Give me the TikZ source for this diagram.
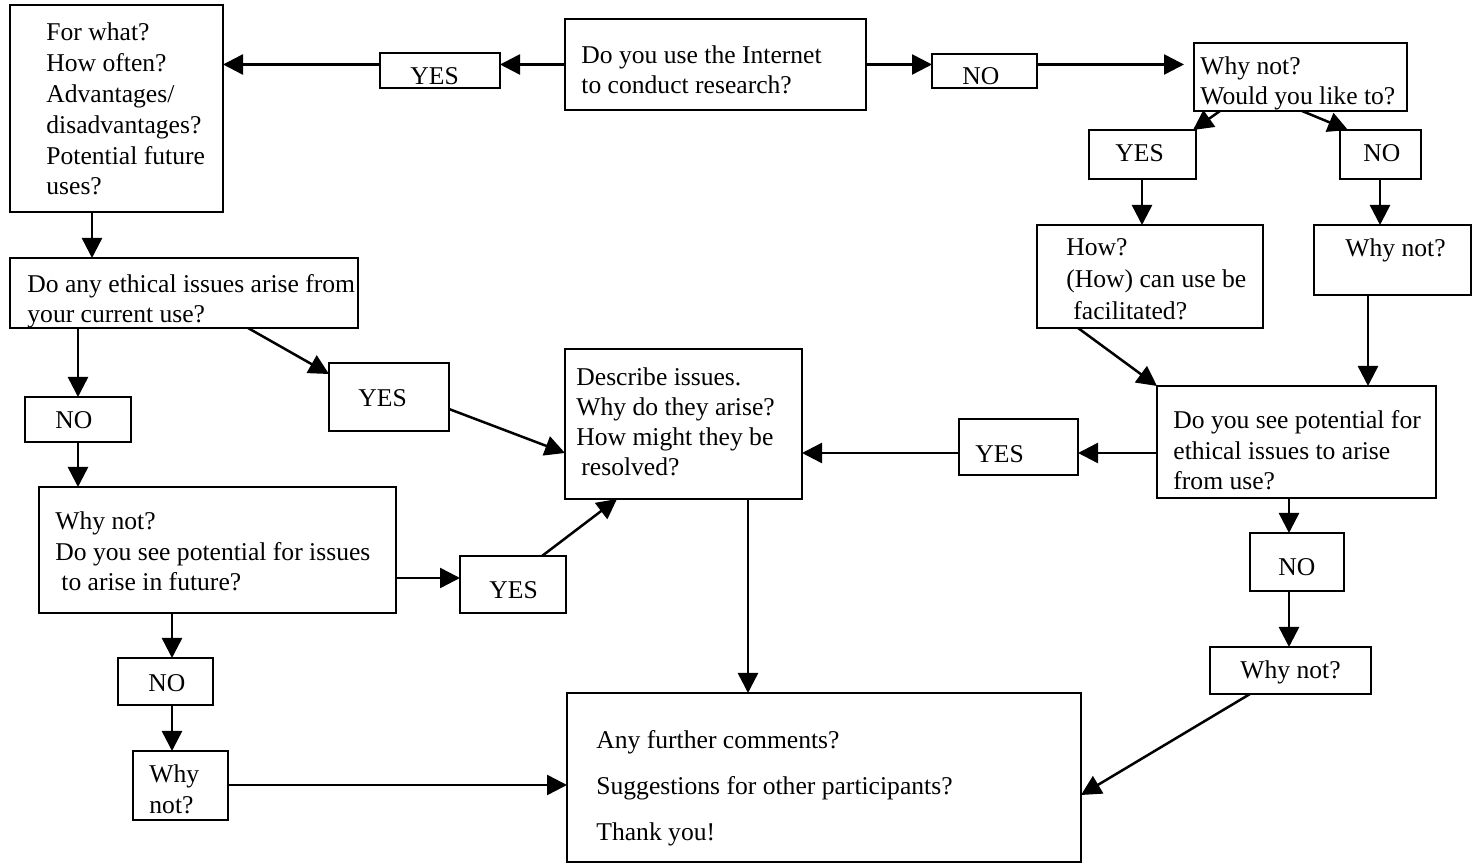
\documentclass[tikz,border=0pt]{standalone}
\usepackage{fontspec}
\setmainfont{Liberation Serif}
\usetikzlibrary{arrows.meta,calc}
\newcommand{\mkbox}[5]{\node[box, minimum width={(#4-#2)*0.5pt}, minimum height={(#5-#3)*0.5pt}] (#1) at ({(#2+#4)/2},{(#3+#5)/2}) {};}
\tikzset{
  box/.style={draw, line width=1.25pt, inner sep=0pt, outer sep=0pt, fill=white},
  txt/.style={anchor=base west, inner sep=0pt, align=left},
  arr/.style={line width=1.25pt, -{Triangle[length=10pt,width=10pt]}},
}
\newcommand{\fs}[1]{\fontsize{12.8pt}{#1pt}\selectfont}
\begin{document}
\begin{tikzpicture}[x=0.5pt,y=-0.5pt]
\useasboundingbox[fill=white] (0,0) rectangle (1473,865);
% boxes
\mkbox{a}{10}{5}{223}{212}
\mkbox{y1}{380}{53}{500}{88}
\mkbox{q}{565}{19}{866}{110}
\mkbox{n1}{932}{54}{1037}{88}
\mkbox{w}{1194}{43}{1407}{111}
\mkbox{y2}{1089}{130}{1196}{179}
\mkbox{n2}{1340}{130}{1421}{179}
\mkbox{h}{1037}{225}{1263}{328}
\mkbox{wn2}{1314}{225}{1471}{295}
\mkbox{p}{1157}{386}{1436}{498}
\mkbox{y3}{959}{419}{1078}{475}
\mkbox{n3}{1250}{533}{1344}{591}
\mkbox{wn3}{1210}{647}{1371}{694}
\mkbox{d}{565}{349}{802}{499}
\mkbox{e}{10}{258}{358}{328}
\mkbox{y4}{329}{363}{449}{431}
\mkbox{n4}{25}{397}{131}{442}
\mkbox{f}{39}{487}{396}{613}
\mkbox{y5}{460}{556}{566}{613}
\mkbox{n5}{118}{658}{213}{705}
\mkbox{wn5}{133}{751}{228}{820}
\mkbox{s}{567}{693}{1081}{862}
% texts (anchor = baseline of last line)
\node[txt, font=\fs{15.4}] (ta) at (46,195) {For what?\\How often?\\Advantages/\\disadvantages?\\Potential future\\uses?};
\node[txt, font=\fs{15}] (ty1) at (410,85) {YES};
\node[txt, font=\fs{15}] (tq) at (581,94) {Do you use the Internet\\to conduct research?};
\node[txt, font=\fs{15}] (tn1) at (962,85) {NO};
\node[txt, font=\fs{15}] (tw) at (1200,105) {Why not?\\Would you like to?};
\node[txt, font=\fs{15}] (ty2) at (1115,162) {YES};
\node[txt, font=\fs{15}] (tn2) at (1363,162) {NO};
\node[txt, font=\fs{16}] (th) at (1066,320) {How?\\(How) can use be\\\hspace*{3.5pt}facilitated?};
\node[txt, font=\fs{15}] (twn2) at (1345,257) {Why not?};
\node[txt, font=\fs{15.25}] (tp) at (1173,490) {Do you see potential for\\ethical issues to arise\\from use?};
\node[txt, font=\fs{15}] (ty3) at (975,463) {YES};
\node[txt, font=\fs{15}] (tn3) at (1278,576) {NO};
\node[txt, font=\fs{15}] (twn3) at (1240,679) {Why not?};
\node[txt, font=\fs{15}] (td) at (576,476) {Describe issues.\\Why do they arise?\\How might they be\\\hspace*{2.5pt}resolved?};
\node[txt, font=\fs{15}] (te) at (27,323) {Do any ethical issues arise from\\your current use?};
\node[txt, font=\fs{15}] (ty4) at (358,407) {YES};
\node[txt, font=\fs{15}] (tn4) at (55,429) {NO};
\node[txt, font=\fs{15.25}] (tf) at (55,591) {Why not?\\Do you see potential for issues\\\hspace*{3pt}to arise in future?};
\node[txt, font=\fs{15}] (ty5) at (489,599) {YES};
\node[txt, font=\fs{15}] (tn5) at (148,691) {NO};
\node[txt, font=\fs{15.5}] (twn5) at (149,813) {Why\\not?};
\node[txt, font=\fs{23}] (ts) at (596,840) {Any further comments?\\Suggestions for other participants?\\Thank you!};
% helper coordinates
\coordinate (c453) at (0,453);
\coordinate (c578) at (0,578);
\coordinate (c785) at (0,785);
\coordinate (x1289) at (1289,0);
\coordinate (x748) at (748,0);
\coordinate (x92) at (92,0);
\coordinate (x78) at (78,0);
\coordinate (x172) at (172,0);
\coordinate (x1368) at (1368,0);
\coordinate (x1142) at (1142,0);
\coordinate (x1380) at (1380,0);
% connectors
\draw[arr] (q.west) -- (q.west -| y1.east);
\draw[arr] (y1.west |- q.west) -- (a.east |- q.west);
\draw[arr] (q.east) -- (q.east -| n1.west);
\draw[arr] (n1.east |- q.east) -- ($(w.west |- q.east)+(-10,0)$);
\draw[arr] ($(w.south west)+(26,0)$) -- ($(y2.north east)+(-3,0)$);
\draw[arr] ($(w.south west)+(108,0)$) -- ($(n2.north west)+(8,0)$);
\draw[arr] (y2.south -| x1142) -- (h.north -| x1142);
\draw[arr] (n2.south -| x1380) -- (wn2.north -| x1380);
\draw[arr] ($(h.south west)+(41,0)$) -- (p.north west);
\draw[arr] (wn2.south -| x1368) -- (p.north -| x1368);
\draw[arr] (p.west |- c453) -- (y3.east |- c453);
\draw[arr] (y3.west |- c453) -- (d.east |- c453);
\draw[arr] (p.south -| x1289) -- (n3.north -| x1289);
\draw[arr] (n3.south -| x1289) -- (wn3.north -| x1289);
\draw[arr] ($(wn3.south west)+(40,0)$) -- ($(s.north east)+(0,102)$);
\draw[arr] (d.south -| x748) -- (s.north -| x748);
\draw[arr] (a.south -| x92) -- (e.north -| x92);
\draw[arr] (e.south -| x78) -- (n4.north -| x78);
\draw[arr] ($(e.south west)+(238,0)$) -- ($(y4.north west)+(0,11)$);
\draw[arr] ($(y4.north east)+(0,46)$) -- (d.west |- c453);
\draw[arr] (n4.south -| x78) -- (f.north -| x78);
\draw[arr] (f.east |- c578) -- (y5.west |- c578);
\draw[arr] ($(y5.north west)+(82,0)$) -- ($(d.south west)+(52,0)$);
\draw[arr] (f.south -| x172) -- (n5.north -| x172);
\draw[arr] (n5.south -| x172) -- (wn5.north -| x172);
\draw[arr] (wn5.east |- c785) -- (s.west |- c785);
\end{tikzpicture}
\end{document}
